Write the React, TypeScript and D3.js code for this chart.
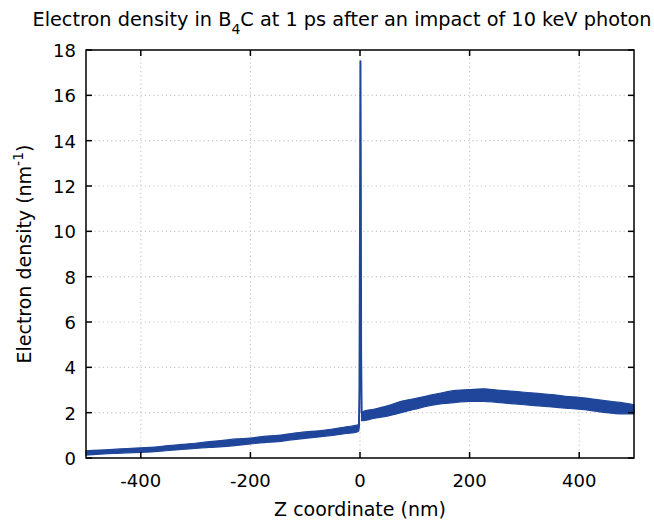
import React from "react";
import * as d3 from "d3";

// Noise band of the density profile (nm, lower and upper edge of the band, nm^-1)
const bandZ = [-500, -475, -450, -425, -400, -375, -350, -325, -300, -275, -250, -225, -200, -175, -150, -125, -100, -75, -50, -25, -5, -2];
const bandLow = [0.13, 0.17, 0.2, 0.23, 0.25, 0.28, 0.33, 0.38, 0.42, 0.47, 0.5, 0.56, 0.62, 0.68, 0.72, 0.8, 0.87, 0.93, 1.0, 1.08, 1.15, 1.2];
const bandHigh = [0.32, 0.35, 0.38, 0.42, 0.45, 0.48, 0.55, 0.6, 0.65, 0.72, 0.78, 0.84, 0.88, 0.95, 1.0, 1.08, 1.15, 1.2, 1.28, 1.38, 1.45, 1.5];

const bandZRight = [3, 5, 25, 50, 75, 100, 125, 150, 175, 200, 225, 250, 275, 300, 325, 350, 375, 400, 425, 450, 475, 500];
const bandLowRight = [1.65, 1.65, 1.75, 1.85, 2.0, 2.15, 2.3, 2.4, 2.45, 2.5, 2.5, 2.45, 2.4, 2.35, 2.3, 2.25, 2.2, 2.15, 2.08, 2.0, 1.95, 1.95];
const bandHighRight = [2.0, 2.05, 2.15, 2.3, 2.5, 2.62, 2.75, 2.88, 2.98, 3.02, 3.05, 3.0, 2.95, 2.9, 2.85, 2.8, 2.72, 2.68, 2.6, 2.52, 2.45, 2.35];

// Spike at the surface
const spikeZ = [-5, -2, -1, 0, 0.8, 1.5, 2, 3, 5];
const spikeValue = [1.3, 1.35, 3.0, 10.0, 17.5, 12.0, 4.7, 2.0, 1.85];

const xTicks = [-400, -200, 0, 200, 400];
const yTicks = [0, 2, 4, 6, 8, 10, 12, 14, 16, 18];

const W = 654;
const H = 521;
const M = { left: 86, right: 634, top: 50, bottom: 458 };
const COLOR = "#1f469b";
const FONT = "'DejaVu Sans', sans-serif";

type P = { z: number; lo: number; hi: number };

export default function App() {
  const x = d3.scaleLinear().domain([-500, 500]).range([M.left, M.right]);
  const y = d3.scaleLinear().domain([0, 18]).range([M.bottom, M.top]);

  const leftPts: P[] = bandZ.map((z, i) => ({ z, lo: bandLow[i], hi: bandHigh[i] }));
  const rightPts: P[] = bandZRight.map((z, i) => ({ z, lo: bandLowRight[i], hi: bandHighRight[i] }));
  const areaGen = d3
    .area<P>()
    .x((d) => x(d.z))
    .y0((d) => y(d.lo))
    .y1((d) => y(d.hi))
    .curve(d3.curveMonotoneX);
  const spikeLine = d3
    .line<number>()
    .x((_, i) => x(spikeZ[i]))
    .y((d) => y(d));

  return (
    <div style={{ position: "absolute", left: 0, top: 0 }}>
      <svg width={W} height={H} style={{ display: "block", background: "#fff" }} fontFamily={FONT}>
        {/* grid */}
        {xTicks.map((t) => (
          <line key={"gx" + t} x1={x(t)} x2={x(t)} y1={M.top} y2={M.bottom} stroke="#c8c8c8" strokeWidth={1.2} strokeDasharray="1.2,3" />
        ))}
        {yTicks.filter((t) => t > 0 && t < 18).map((t) => (
          <line key={"gy" + t} x1={M.left} x2={M.right} y1={y(t)} y2={y(t)} stroke="#c8c8c8" strokeWidth={1.2} strokeDasharray="1.2,3" />
        ))}

        {/* data */}
        <path d={areaGen(leftPts) || ""} fill={COLOR} stroke={COLOR} strokeWidth={1.2} />
        <path d={areaGen(rightPts) || ""} fill={COLOR} stroke={COLOR} strokeWidth={1.2} />
        <path d={spikeLine(spikeValue) || ""} fill="none" stroke={COLOR} strokeWidth={2} strokeLinejoin="round" />

        {/* ticks */}
        {xTicks.map((t) => (
          <g key={"tx" + t}>
            <line x1={x(t)} x2={x(t)} y1={M.bottom} y2={M.bottom - 6} stroke="#000" strokeWidth={1.5} />
            <line x1={x(t)} x2={x(t)} y1={M.top} y2={M.top + 6} stroke="#000" strokeWidth={1.5} />
            <text x={x(t)} y={M.bottom + 29} textAnchor="middle" fontSize={18} fill="#000">
              {t}
            </text>
          </g>
        ))}
        {yTicks.map((t) => (
          <g key={"ty" + t}>
            <line x1={M.left} x2={M.left + 6} y1={y(t)} y2={y(t)} stroke="#000" strokeWidth={1.5} />
            <line x1={M.right} x2={M.right - 6} y1={y(t)} y2={y(t)} stroke="#000" strokeWidth={1.5} />
            <text x={M.left - 10} y={y(t) + 7} textAnchor="end" fontSize={18} fill="#000">
              {t}
            </text>
          </g>
        ))}

        {/* frame */}
        <rect x={M.left} y={M.top} width={M.right - M.left} height={M.bottom - M.top} fill="none" stroke="#000" strokeWidth={1.5} />

        {/* title */}
        <text x={342} y={26} textAnchor="middle" fontSize={19.3} fill="#000">
          Electron density in B<tspan baselineShift="sub" fontSize={14}>4</tspan>C at 1 ps after an impact of 10 keV photon
        </text>

        {/* axis labels */}
        <text x={(M.left + M.right) / 2} y={516} textAnchor="middle" fontSize={19} fill="#000">
          Z coordinate (nm)
        </text>
        <text transform={`translate(31, ${(M.top + M.bottom) / 2}) rotate(-90)`} textAnchor="middle" fontSize={19} fill="#000">
          Electron density (nm<tspan baselineShift="super" fontSize={14}>-1</tspan>)
        </text>
      </svg>
    </div>
  );
}
